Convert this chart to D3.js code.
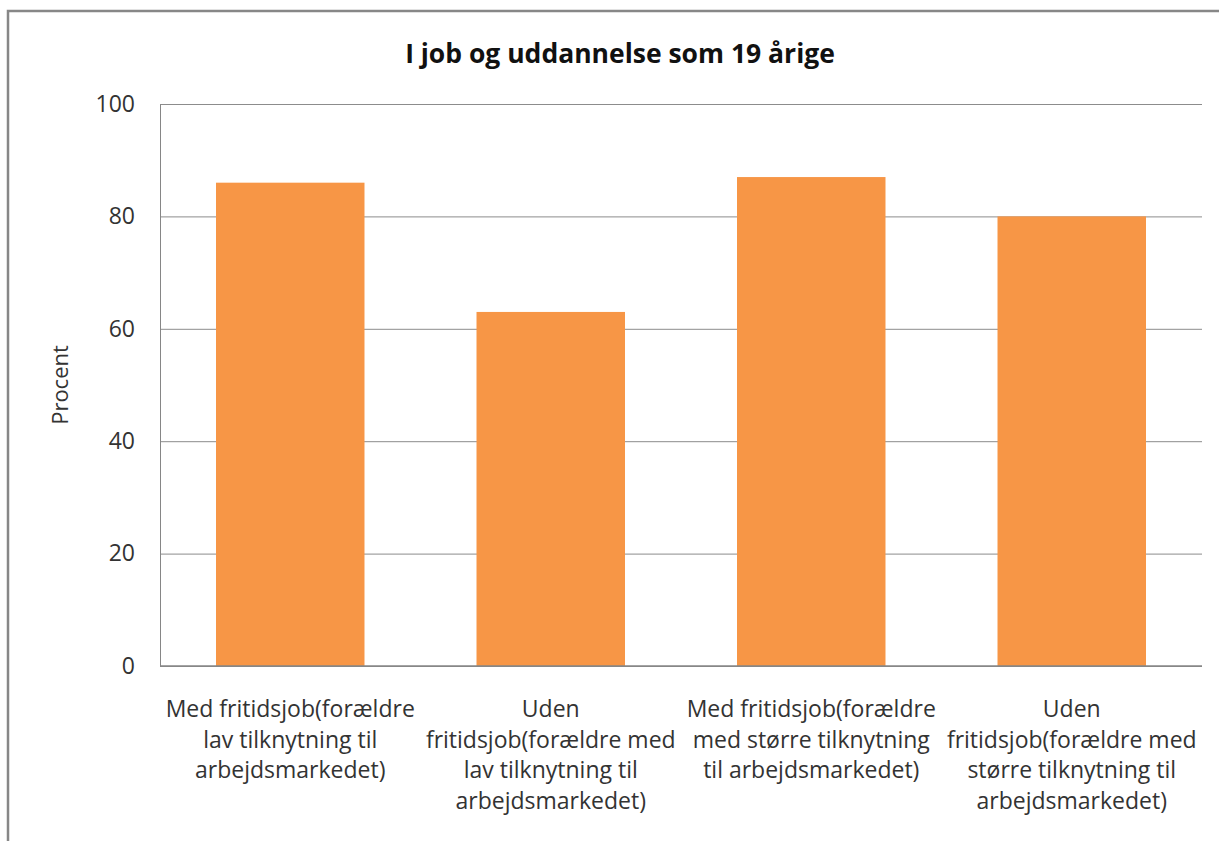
<!DOCTYPE html>
<html>
<head>
<meta charset="utf-8">
<script src="https://cdn.jsdelivr.net/npm/d3@7"></script>
<style>
    html, body { margin: 0; padding: 0; background: #fff; }
    svg { display: block; }
</style>
</head>
<body>
<div id="chart"></div>
<script>
// Chart data
const categories = ['c1', 'c2', 'c3', 'c4'];
const categoryLines = [
    ['Med fritidsjob(forældre', 'lav tilknytning til', 'arbejdsmarkedet)'],
    ['Uden', 'fritidsjob(forældre med', 'lav tilknytning til', 'arbejdsmarkedet)'],
    ['Med fritidsjob(forældre', 'med større tilknytning', 'til arbejdsmarkedet)'],
    ['Uden', 'fritidsjob(forældre med', 'større tilknytning til', 'arbejdsmarkedet)']
];
const values = [86, 63, 87, 80];
const yTicks = [0, 20, 40, 60, 80, 100];
const titleText = 'I job og uddannelse som 19 årige';
const yLabel = 'Procent';

(function () {
    'use strict';

    const W = 1219, H = 841;
    const margin = {top: 104, right: 17, bottom: 175, left: 160};
    const cW = W - margin.left - margin.right;
    const cH = H - margin.top - margin.bottom;
    const FONT = '"Open Sans", Lato, sans-serif';

    const svg = d3.select('#chart').append('svg').attr('width', W).attr('height', H);

    // Outer chart border (only top/left visible in frame)
    svg.append('rect')
        .attr('x', 8).attr('y', 11).attr('width', W + 10).attr('height', H + 10)
        .attr('fill', '#fff').attr('stroke', '#878787').attr('stroke-width', 2.5);

    const g = svg.append('g').attr('transform', `translate(${margin.left},${margin.top})`);

    const x = d3.scaleBand().domain(categories).range([0, cW]).paddingInner(0.43).paddingOuter(0.215);
    const y = d3.scaleLinear().domain([0, 100]).range([cH, 0]);

    // Gridlines
    g.append('g')
        .call(d3.axisLeft(y).tickValues(yTicks).tickSize(-cW).tickFormat(''))
        .call(gg => {
            gg.select('.domain').remove();
            gg.selectAll('line').attr('stroke', '#8c8c8c').attr('stroke-width', 1);
        });

    // Bars
    g.selectAll('rect.bar').data(values).enter().append('rect')
        .attr('class', 'bar')
        .attr('x', (d, i) => x(categories[i]))
        .attr('width', x.bandwidth())
        .attr('y', d => y(d))
        .attr('height', d => cH - y(d))
        .attr('fill', '#f79646');

    // Y axis
    g.append('g')
        .call(d3.axisLeft(y).tickValues(yTicks).tickSize(0).tickPadding(25))
        .call(gg => {
            gg.select('.domain').attr('stroke', '#868686');
            gg.selectAll('text').attr('font-family', FONT).attr('font-size', '23px').attr('fill', '#333');
        });

    // X axis baseline
    g.append('line')
        .attr('x1', 0).attr('x2', cW).attr('y1', cH).attr('y2', cH)
        .attr('stroke', '#868686').attr('stroke-width', 1.5);

    // Category labels (multi-line)
    categories.forEach((c, i) => {
        const t = g.append('text')
            .attr('text-anchor', 'middle')
            .attr('font-family', FONT).attr('font-size', '23px').attr('fill', '#333')
            .attr('transform', `translate(${x(c) + x.bandwidth() / 2},${cH + 51})`);
        categoryLines[i].forEach((line, k) => {
            t.append('tspan').attr('x', 0).attr('y', k * 30.7).text(line);
        });
    });

    // Title
    svg.append('text')
        .attr('x', 620).attr('y', 63)
        .attr('text-anchor', 'middle')
        .attr('font-family', FONT).attr('font-size', '26.5px').attr('font-weight', 'bold')
        .attr('fill', '#111')
        .text(titleText);

    // Y label
    svg.append('text')
        .attr('transform', 'translate(68,385) rotate(-90)')
        .attr('text-anchor', 'middle')
        .attr('font-family', FONT).attr('font-size', '22px').attr('fill', '#333')
        .text(yLabel);
})();
</script>
</body>
</html>
